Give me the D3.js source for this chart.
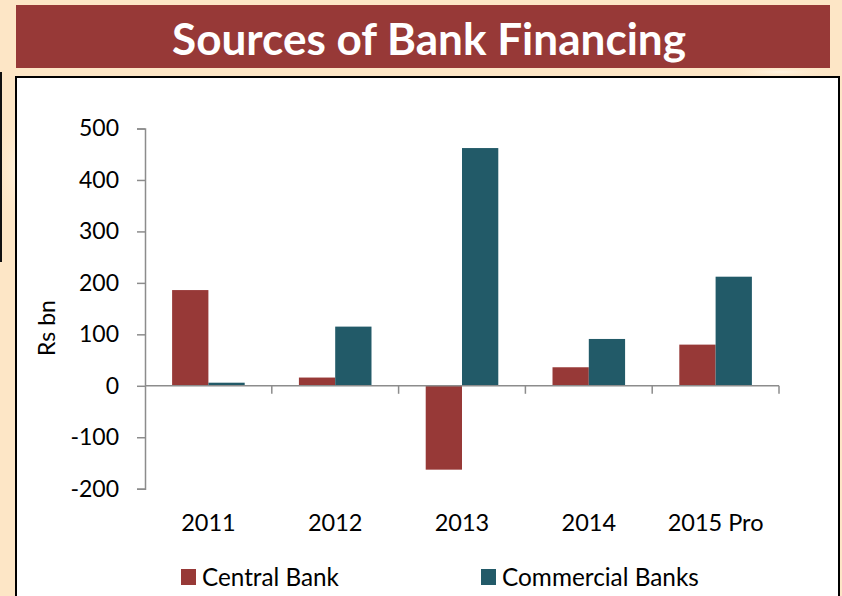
<!DOCTYPE html>
<html>
<head>
<meta charset="utf-8">
<script src="https://cdn.jsdelivr.net/npm/d3@7/dist/d3.min.js"></script>
<style>
  html, body { margin: 0; padding: 0; background: #fde6c6; }
  svg { display: block; }
  text { font-family: Lato, "Open Sans", sans-serif; }
</style>
</head>
<body>
<svg id="chart" width="842" height="596"></svg>
<script>
// Bank financing by source, Rs bn
const years = ["2011", "2012", "2013", "2014", "2015 Pro"];
const seriesNames = ["Central Bank", "Commercial Banks"];
const centralBank = [186, 16, -163, 36, 80];
const commercialBanks = [6, 115, 462, 91, 212];
const yTicks = [-200, -100, 0, 100, 200, 300, 400, 500];
const colors = ["#973937", "#225a68"];
const titleText = "Sources of Bank Financing";
const yLabel = "Rs bn";

const svg = d3.select("#chart");
const W = 842, H = 596;

// page background with soft highlights
const defs = svg.append("defs");
const rg = defs.append("radialGradient").attr("id", "glow");
rg.append("stop").attr("offset", "0%").attr("stop-color", "#fff6e6").attr("stop-opacity", 0.9);
rg.append("stop").attr("offset", "100%").attr("stop-color", "#fde6c6").attr("stop-opacity", 0);
svg.append("rect").attr("width", W).attr("height", H).attr("fill", "#fde6c6");
svg.append("ellipse").attr("cx", 20).attr("cy", 170).attr("rx", 25).attr("ry", 60).attr("fill", "url(#glow)");
svg.append("ellipse").attr("cx", 780).attr("cy", 72).attr("rx", 60).attr("ry", 6).attr("fill", "url(#glow)");

// title banner
svg.append("rect").attr("x", 16).attr("y", 5).attr("width", 814).attr("height", 63).attr("fill", "#973937");
const title = svg.append("text")
  .attr("x", 429).attr("y", 55)
  .attr("text-anchor", "middle")
  .attr("fill", "#ffffff")
  .attr("font-weight", 700)
  .attr("font-size", 42)
  .text(titleText);
const tw = title.node().getComputedTextLength();
title.attr("font-size", 42 * 514 / tw);

// thin dark rule at the left edge
svg.append("line").attr("x1", 1).attr("x2", 1).attr("y1", 72).attr("y2", 262)
  .attr("stroke", "#111").attr("stroke-width", 2);

// chart panel
svg.append("rect").attr("x", 16).attr("y", 77).attr("width", 823).attr("height", 540)
  .attr("fill", "#ffffff").attr("stroke", "#000").attr("stroke-width", 2);

// scales
const plot = { left: 145, right: 779, top: 128.5, bottom: 488.7 };
const y = d3.scaleLinear().domain([-200, 500]).range([plot.bottom, plot.top]);
const x0 = d3.scaleBand().domain(years).range([plot.left, plot.right]).paddingInner(0).paddingOuter(0);
const x1 = d3.scaleBand().domain(seriesNames).range([0, x0.bandwidth()]).paddingInner(0).paddingOuter(0.747);

const axisColor = "#8c8c8c";

// y axis
const yAxis = svg.append("g").attr("transform", `translate(${plot.left},0)`)
  .call(d3.axisLeft(y).tickValues(yTicks).tickSize(8).tickPadding(18).tickFormat(d => String(d)));
yAxis.select(".domain").attr("stroke", axisColor).attr("stroke-width", 1.5);
yAxis.selectAll(".tick line").attr("stroke", axisColor).attr("stroke-width", 1.5);
yAxis.selectAll(".tick text").attr("font-size", 23).attr("fill", "#000").attr("font-family", "Lato, sans-serif");

// y axis title
svg.append("text")
  .attr("transform", "translate(55,328) rotate(-90)")
  .attr("text-anchor", "middle")
  .attr("font-size", 23)
  .attr("fill", "#000")
  .text(yLabel);

// bars
const rows = years.map((yr, i) => ({ year: yr, values: [centralBank[i], commercialBanks[i]] }));
const groups = svg.append("g").selectAll("g").data(rows).join("g")
  .attr("transform", d => `translate(${x0(d.year)},0)`);
groups.selectAll("rect").data(d => d.values.map((v, k) => ({ key: seriesNames[k], value: v, k })))
  .join("rect")
  .attr("x", d => x1(d.key))
  .attr("width", x1.bandwidth())
  .attr("y", d => y(Math.max(0, d.value)))
  .attr("height", d => Math.abs(y(d.value) - y(0)))
  .attr("fill", d => colors[d.k]);

// x axis along zero with ticks at category boundaries
const xAxisG = svg.append("g");
xAxisG.append("line").attr("x1", plot.left).attr("x2", plot.right)
  .attr("y1", y(0)).attr("y2", y(0)).attr("stroke", axisColor).attr("stroke-width", 1.5);
const bounds = years.map(yr => x0(yr)).concat([plot.right]).slice(1);
xAxisG.selectAll("line.tk").data(bounds).join("line").attr("class", "tk")
  .attr("x1", d => d).attr("x2", d => d)
  .attr("y1", y(0)).attr("y2", y(0) + 8)
  .attr("stroke", axisColor).attr("stroke-width", 1.5);

// category labels
svg.append("g").selectAll("text").data(years).join("text")
  .attr("x", d => x0(d) + x0.bandwidth() / 2)
  .attr("y", 531)
  .attr("text-anchor", "middle")
  .attr("font-size", 23.5)
  .attr("fill", "#000")
  .text(d => d);

// legend
const legendX = [181, 481];
const legendTextWidth = [137, 197];
const legend = svg.append("g").selectAll("g").data(seriesNames).join("g")
  .attr("transform", (d, i) => `translate(${legendX[i]},569)`);
legend.append("rect").attr("width", 15).attr("height", 16).attr("fill", (d, i) => colors[i]);
legend.append("text").attr("x", 21).attr("y", 17)
  .attr("font-size", 24).attr("fill", "#000").text(d => d)
  .each(function (d) {
    const target = legendTextWidth[seriesNames.indexOf(d)];
    const w = this.getComputedTextLength();
    d3.select(this).attr("font-size", 24 * Math.min(1.06, target / w));
  });
</script>
</body>
</html>
